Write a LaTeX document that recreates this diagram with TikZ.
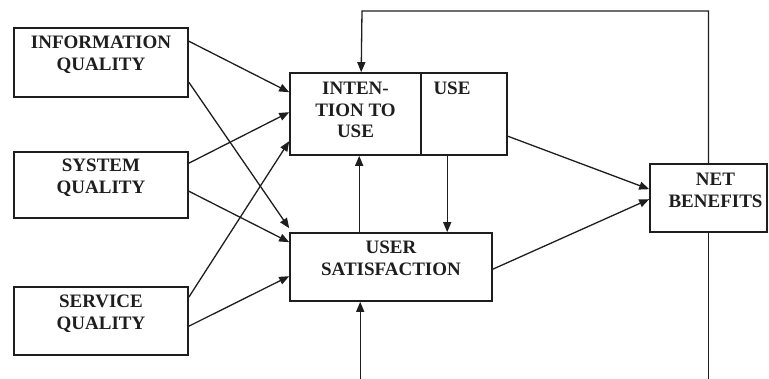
\documentclass[tikz,border=0pt]{standalone}
\usepackage{fontspec}
\setmainfont{Liberation Serif}
\usepackage{xcolor}
\usepackage{tikz}
\usetikzlibrary{calc,arrows.meta}
\definecolor{ink}{HTML}{1E1E1E}
\tikzset{
  box/.style={draw=ink, line width=1.6pt, inner sep=0pt},
  lab/.style={text=ink, font=\fontsize{19}{21.5}\selectfont\bfseries, align=center, inner sep=0pt, anchor=north},
  link/.style={draw=ink, line width=1.3pt, -{Triangle[length=10pt,width=8pt]}},
  wire/.style={draw=ink, line width=1.3pt},
}

\begin{document}
\begin{tikzpicture}[x=1pt,y=-1pt]
\useasboundingbox (0,0) rectangle (769,379);
% left column
\node[box, minimum width=174pt, minimum height=69pt, label={[lab, yshift=-9pt]north:{INFORMATION\\QUALITY}}] (infoq) at (101,62.5) {};
\node[box, minimum width=174pt, minimum height=66pt, label={[lab, yshift=-8pt]north:{SYSTEM\\QUALITY}}] (sysq) at (101,185) {};
\node[box, minimum width=174pt, minimum height=68pt, label={[lab, yshift=-9pt]north:{SERVICE\\QUALITY}}] (servq) at (101,321) {};
% middle
\node[box, minimum width=131pt, minimum height=82pt, label={[lab, yshift=-10pt]north:{INTEN-\\TION TO\\USE}}] (intent) at (355.5,114) {};
\node[box, minimum width=86pt, minimum height=82pt, label={[lab, yshift=-10pt, xshift=-12pt]north:{USE}}] (use) at (464,114) {};
\node[box, minimum width=202pt, minimum height=68pt, label={[lab, yshift=-9pt]north:{USER\\SATISFACTION}}] (usersat) at (391,267) {};
% right
\node[box, minimum width=117pt, minimum height=68pt, label={[lab, yshift=-10pt, xshift=7pt]north:{NET\\BENEFITS}}] (netben) at (708.5,198) {};

\foreach \src/\sy/\dst/\dy in {infoq/14/intent/20, infoq/55/usersat/-4, sysq/12/intent/40,
    sysq/40/usersat/10, servq/11/intent/69, servq/40/usersat/44}{
  \draw[link] ($(\src.north east)+(0,\sy)$) -- ($(\dst.north west)+(0,\dy)$);
}
\draw[link] ($(use.north east)+(0,64)$) -- ($(netben.north west)+(0,26)$);
\draw[link] ($(usersat.north east)+(0,37)$) -- ($(netben.north west)+(0,36)$);
\draw[link] ($(usersat.north west)+(70,0)$) -- ($(intent.south west)+(70,0)$);
\draw[link] ($(use.south west)+(27,0)$) -- ($(usersat.north west)+(158,0)$);

% feedback loop
\coordinate (fbtop) at (362,11);
\coordinate (floor) at (0,379);
\coordinate (usin) at ($(usersat.south west)+(71,0)$);
\draw[link] (netben.north) |- (fbtop) -- ($(intent.north west)+(72,0)$);
\draw[wire] (netben.south) -- (netben.south |- floor);
\draw[link] (usin |- floor) -- (usin);
\end{tikzpicture}
\end{document}
